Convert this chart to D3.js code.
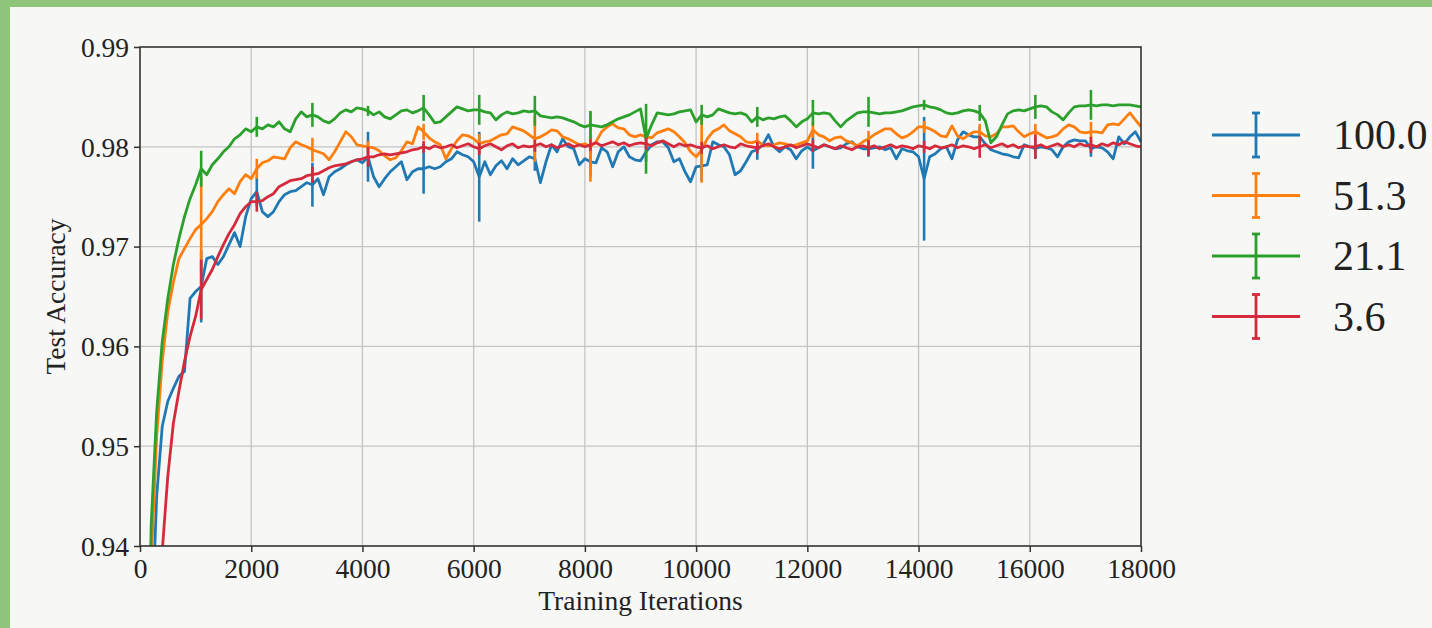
<!DOCTYPE html>
<html>
<head>
<meta charset="utf-8">
<script src="https://cdn.jsdelivr.net/npm/d3@7"></script>
<style>
	html, body { margin: 0; padding: 0; background: #f7f7f5; }
	#chart1 { width: 1432px; height: 628px; }
	text { font-family: "Liberation Serif", "DejaVu Serif", serif; fill: #222; }
</style>
</head>
<body>
<div id="chart1"></div>
<script>
// iterations are sampled every 100 steps, error bars every 1000 steps (offset 100)
var iterations = d3.range(100, 18001, 100);
var errIterations = d3.range(1100, 17101, 1000);

var seriesNames = ["100.0", "51.3", "21.1", "3.6"];
var seriesColors = ["#2179b4", "#ff7f0e", "#2ca02c", "#d42a3c"];

var xTicks = [0, 2000, 4000, 6000, 8000, 10000, 12000, 14000, 16000, 18000];
var yTicks = [0.94, 0.95, 0.96, 0.97, 0.98, 0.99];

var acc100 = [
	0.905, 0.930, 0.945, 0.952, 0.9545, 0.9558, 0.9570, 0.9575, 0.9648, 0.9655,
	0.9660, 0.9688, 0.9690, 0.9682, 0.9690, 0.9702, 0.9714, 0.9700, 0.9730, 0.9748,
	0.9755, 0.9735, 0.9730, 0.9735, 0.9745, 0.9752, 0.9755, 0.9756, 0.9760, 0.9764,
	0.9762, 0.9768, 0.9752, 0.9770, 0.9775, 0.9778, 0.9782, 0.9785, 0.9787, 0.9784,
	0.9790, 0.9770, 0.9760, 0.9768, 0.9775, 0.9780, 0.9785, 0.9767, 0.9775, 0.9778,
	0.9778, 0.9780, 0.9778, 0.9780, 0.9785, 0.9788, 0.9795, 0.9792, 0.9790, 0.9785,
	0.9770, 0.9785, 0.9772, 0.9781, 0.9786, 0.9778, 0.9788, 0.9782, 0.9786, 0.9790,
	0.9788, 0.9764, 0.9785, 0.9802, 0.9795, 0.9808, 0.9800, 0.9798, 0.9782, 0.9788,
	0.9785, 0.9784, 0.9799, 0.9795, 0.9780, 0.9795, 0.9800, 0.9790, 0.9787, 0.9786,
	0.9795, 0.9802, 0.9805, 0.9805, 0.9799, 0.9785, 0.9788, 0.9775, 0.9765, 0.9780,
	0.9781, 0.9782, 0.9805, 0.9802, 0.9800, 0.9792, 0.9772, 0.9776, 0.9785, 0.9795,
	0.9797, 0.9802, 0.9812, 0.9800, 0.9795, 0.9800, 0.9797, 0.9788, 0.9796, 0.9800,
	0.9796, 0.9799, 0.9802, 0.9800, 0.9798, 0.9799, 0.9803, 0.9805, 0.9800, 0.9798,
	0.9798, 0.9799, 0.9800, 0.9797, 0.9799, 0.9788, 0.9798, 0.9796, 0.9795, 0.9790,
	0.9768, 0.9790, 0.9793, 0.9798, 0.9800, 0.9788, 0.9807, 0.9815, 0.9812, 0.9810,
	0.9810, 0.9803, 0.9797, 0.9795, 0.9793, 0.9792, 0.9790, 0.9789, 0.9802, 0.9800,
	0.9798, 0.9800, 0.9799, 0.9797, 0.9790, 0.9800, 0.9805, 0.9807, 0.9806, 0.9806,
	0.9798, 0.9800, 0.9799, 0.9795, 0.9788, 0.9810, 0.9803, 0.9810, 0.9815, 0.9805
];

var acc51 = [
	0.900, 0.938, 0.951, 0.9585, 0.9635, 0.9664, 0.9688, 0.9698, 0.9708, 0.9717,
	0.9722, 0.9728, 0.9735, 0.9745, 0.9752, 0.9758, 0.9753, 0.9765, 0.9772, 0.9768,
	0.9778, 0.9784, 0.9786, 0.9790, 0.9789, 0.9788, 0.9799, 0.9805, 0.9802, 0.9800,
	0.9797, 0.9795, 0.9793, 0.9787, 0.9795, 0.9805, 0.9815, 0.9810, 0.9802, 0.9801,
	0.9800, 0.9799, 0.9796, 0.9791, 0.9787, 0.9789, 0.9796, 0.9805, 0.9803, 0.9820,
	0.9815, 0.9809, 0.9805, 0.9802, 0.9788, 0.9798, 0.9806, 0.9812, 0.9811, 0.9808,
	0.9803, 0.9805, 0.9806, 0.9809, 0.9812, 0.9813, 0.9820, 0.9818, 0.9816, 0.9812,
	0.9808, 0.9810, 0.9813, 0.9817, 0.9816, 0.9810, 0.9808, 0.9805, 0.9802, 0.9803,
	0.9800, 0.9805, 0.9815, 0.9820, 0.9823, 0.9819, 0.9818, 0.9812, 0.9810, 0.9812,
	0.9810, 0.9809, 0.9814, 0.9816, 0.9818, 0.9815, 0.9810, 0.9804, 0.9795, 0.9790,
	0.9797, 0.9808, 0.9815, 0.9818, 0.9822, 0.9816, 0.9813, 0.9810, 0.9805, 0.9804,
	0.9806, 0.9802, 0.9801, 0.9802, 0.9804, 0.9803, 0.9801, 0.9802, 0.9804, 0.9806,
	0.9817, 0.9812, 0.9810, 0.9806, 0.9809, 0.9810, 0.9806, 0.9804, 0.9801, 0.9805,
	0.9808, 0.9812, 0.9815, 0.9818, 0.9818, 0.9813, 0.9809, 0.9811, 0.9815, 0.9820,
	0.9820, 0.9818, 0.9815, 0.9811, 0.9810, 0.9821, 0.9811, 0.9808, 0.9812, 0.9815,
	0.9815, 0.9811, 0.9810, 0.9813, 0.9820, 0.9820, 0.9821, 0.9815, 0.9810, 0.9813,
	0.9815, 0.9812, 0.9809, 0.9810, 0.9812, 0.9818, 0.9822, 0.9820, 0.9815, 0.9814,
	0.9815, 0.9815, 0.9814, 0.9822, 0.9823, 0.9822, 0.9828, 0.9834, 0.9827, 0.9820
];

var acc21 = [
	0.905, 0.942, 0.9535, 0.9605, 0.9648, 0.9682, 0.9708, 0.9730, 0.9748, 0.9762,
	0.9778, 0.9772, 0.9782, 0.9788, 0.9795, 0.9800, 0.9808, 0.9812, 0.9818, 0.9815,
	0.9820, 0.9818, 0.9822, 0.9820, 0.9825, 0.9818, 0.9815, 0.9828, 0.9835, 0.9830,
	0.9832, 0.9830, 0.9826, 0.9824, 0.9828, 0.9834, 0.9837, 0.9835, 0.9839, 0.9838,
	0.9836, 0.9832, 0.9835, 0.9830, 0.9828, 0.9832, 0.9836, 0.9837, 0.9834, 0.9836,
	0.9839, 0.9832, 0.9824, 0.9825, 0.9830, 0.9835, 0.9840, 0.9838, 0.9836, 0.9837,
	0.9837, 0.9835, 0.9834, 0.9827, 0.9832, 0.9835, 0.9833, 0.9834, 0.9836, 0.9835,
	0.9836, 0.9831, 0.9830, 0.9829, 0.9830, 0.9829, 0.9827, 0.9825, 0.9822, 0.9820,
	0.9822, 0.9821, 0.9820, 0.9822, 0.9825, 0.9828, 0.9830, 0.9832, 0.9835, 0.9838,
	0.9808, 0.9822, 0.9834, 0.9833, 0.9832, 0.9833, 0.9835, 0.9836, 0.9837, 0.9825,
	0.9832, 0.9830, 0.9832, 0.9838, 0.9836, 0.9834, 0.9833, 0.9834, 0.9832, 0.9825,
	0.9830, 0.9827, 0.9829, 0.9828, 0.9830, 0.9831, 0.9826, 0.9820, 0.9825, 0.9828,
	0.9834, 0.9833, 0.9834, 0.9833, 0.9826, 0.9820, 0.9826, 0.9830, 0.9834, 0.9835,
	0.9835, 0.9834, 0.9833, 0.9834, 0.9834, 0.9835, 0.9836, 0.9838, 0.9840, 0.9841,
	0.9842, 0.9840, 0.9839, 0.9837, 0.9834, 0.9833, 0.9834, 0.9836, 0.9837, 0.9836,
	0.9834, 0.9826, 0.9804, 0.9810, 0.9822, 0.9833, 0.9836, 0.9837, 0.9836, 0.9838,
	0.9840, 0.9841, 0.9840, 0.9835, 0.9832, 0.9827, 0.9834, 0.9840, 0.9841, 0.9841,
	0.9842, 0.9841, 0.9842, 0.9842, 0.9841, 0.9842, 0.9842, 0.9842, 0.9841, 0.9840
];

var acc3 = [
	0.880, 0.910, 0.930, 0.9395, 0.9470, 0.9523, 0.9555, 0.9585, 0.9610, 0.9630,
	0.9657, 0.9667, 0.9677, 0.9690, 0.9702, 0.9713, 0.9722, 0.9733, 0.9740, 0.9745,
	0.9745, 0.9746, 0.9750, 0.9753, 0.9760, 0.9763, 0.9766, 0.9767, 0.9768, 0.9771,
	0.9772, 0.9773, 0.9776, 0.9779, 0.9781, 0.9782, 0.9783, 0.9785, 0.9787, 0.9788,
	0.9790, 0.9790, 0.9792, 0.9793, 0.9792, 0.9793, 0.9794, 0.9795, 0.9797, 0.9798,
	0.9800, 0.9798, 0.9801, 0.9799, 0.9800, 0.9802, 0.9799, 0.9801, 0.9803, 0.9800,
	0.9798, 0.9801, 0.9803, 0.9800, 0.9797, 0.9801, 0.9803, 0.9799, 0.9801, 0.9800,
	0.9801, 0.9803, 0.9800, 0.9802, 0.9799, 0.9801, 0.9803, 0.9800, 0.9802, 0.9800,
	0.9802, 0.9804, 0.9801, 0.9803, 0.9805, 0.9802, 0.9804, 0.9801, 0.9803, 0.9804,
	0.9803, 0.9801, 0.9804, 0.9806, 0.9803, 0.9800, 0.9803, 0.9801, 0.9802, 0.9800,
	0.9799, 0.9801, 0.9798, 0.9800, 0.9802, 0.9800, 0.9799, 0.9803, 0.9801, 0.9800,
	0.9799, 0.9801, 0.9803, 0.9800, 0.9798, 0.9800, 0.9802, 0.9799, 0.9801, 0.9803,
	0.9801, 0.9799, 0.9802, 0.9800, 0.9798, 0.9801, 0.9799, 0.9797, 0.9800, 0.9801,
	0.9799, 0.9801, 0.9798, 0.9800, 0.9802, 0.9799, 0.9801, 0.9800, 0.9798, 0.9801,
	0.9800, 0.9798, 0.9801, 0.9799, 0.9800, 0.9802, 0.9799, 0.9801, 0.9800, 0.9798,
	0.9800, 0.9802, 0.9799, 0.9801, 0.9803, 0.9800, 0.9802, 0.9799, 0.9801, 0.9800,
	0.9800, 0.9802, 0.9799, 0.9801, 0.9803, 0.9800, 0.9802, 0.9800, 0.9803, 0.9801,
	0.9802, 0.9800, 0.9803, 0.9801, 0.9804, 0.9802, 0.9805, 0.9803, 0.9801, 0.9800
];

// half-length of the error bars at 1100, 2100, ... 17100
var err100 = [0.0036, 0.0015, 0.0022, 0.0025, 0.0025, 0.0045, 0.0012, 0.0015, 0.0010, 0.0015, 0.0010, 0.0018, 0.0008, 0.0062, 0.0010, 0.0010, 0.0008];
var err51 = [0.0048, 0.0010, 0.0012, 0.0006, 0.0008, 0.0010, 0.0023, 0.0035, 0.0008, 0.0033, 0.0008, 0.0008, 0.0008, 0.0006, 0.0008, 0.0008, 0.0010];
var err21 = [0.0018, 0.0010, 0.0012, 0.0005, 0.0013, 0.0015, 0.0015, 0.0014, 0.0035, 0.0010, 0.0010, 0.0013, 0.0015, 0.0005, 0.0008, 0.0012, 0.0015];
var err3 = [0.0030, 0.0010, 0.0008, 0.0010, 0.0006, 0.0006, 0.0006, 0.0006, 0.0006, 0.0006, 0.0006, 0.0006, 0.0008, 0.0006, 0.0011, 0.0012, 0.0008];

(function() {
	var width = 1432,
		height = 628;

	var margin = {left: 140, top: 47, right: 291, bottom: 82};
	var plotW = width - margin.left - margin.right,
		plotH = height - margin.top - margin.bottom;

	var svg = d3.select("#chart1")
		.append("svg")
		.attr("width", width)
		.attr("height", height);

	// green frame from the screenshot
	svg.append("rect").attr("x", 0).attr("y", 0).attr("width", width).attr("height", 7).attr("fill", "#8fc47b");
	svg.append("rect").attr("x", 0).attr("y", 0).attr("width", 10).attr("height", height).attr("fill", "#8fc47b");

	var g = svg.append("g")
		.attr("transform", "translate(" + margin.left + "," + margin.top + ")");

	var x = d3.scaleLinear().domain([0, 18000]).range([0, plotW]);
	var y = d3.scaleLinear().domain([0.94, 0.99]).range([plotH, 0]);

	// grid
	g.append("g").selectAll("line")
		.data(xTicks.slice(1, -1))
		.enter().append("line")
		.attr("x1", function(d) { return x(d); })
		.attr("x2", function(d) { return x(d); })
		.attr("y1", 0).attr("y2", plotH)
		.attr("stroke", "#c4c4c4").attr("stroke-width", 1.3);

	g.append("g").selectAll("line")
		.data(yTicks.slice(1, -1))
		.enter().append("line")
		.attr("y1", function(d) { return y(d); })
		.attr("y2", function(d) { return y(d); })
		.attr("x1", 0).attr("x2", plotW)
		.attr("stroke", "#c4c4c4").attr("stroke-width", 1.3);

	var series = [
		{name: seriesNames[0], color: seriesColors[0], values: acc100, err: err100},
		{name: seriesNames[1], color: seriesColors[1], values: acc51, err: err51},
		{name: seriesNames[2], color: seriesColors[2], values: acc21, err: err21},
		{name: seriesNames[3], color: seriesColors[3], values: acc3, err: err3}
	];

	g.append("clipPath").attr("id", "plotclip")
		.append("rect").attr("width", plotW).attr("height", plotH);

	var line = d3.line()
		.x(function(d, i) { return x(iterations[i]); })
		.y(function(d) { return y(d); });

	var plot = g.append("g").attr("clip-path", "url(#plotclip)");

	series.forEach(function(s) {
		var sg = plot.append("g");
		sg.append("path")
			.datum(s.values)
			.attr("d", line)
			.attr("fill", "none")
			.attr("stroke", s.color)
			.attr("stroke-width", 2.8)
			.attr("stroke-linejoin", "round");

		// error bars (no caps inside the plot)
		var bars = errIterations.map(function(it, k) {
			var idx = iterations.indexOf(it);
			return {it: it, v: s.values[idx], e: s.err[k]};
		});
		sg.selectAll(".eb").data(bars).enter().append("line")
			.attr("x1", function(d) { return x(d.it); })
			.attr("x2", function(d) { return x(d.it); })
			.attr("y1", function(d) { return y(d.v - d.e); })
			.attr("y2", function(d) { return y(d.v + d.e); })
			.attr("stroke", s.color).attr("stroke-width", 2.6);
	});

	// axes
	var xAxis = d3.axisBottom(x).tickValues(xTicks).tickSize(6).tickPadding(5).tickFormat(d3.format("d"));
	var yAxis = d3.axisLeft(y).tickValues(yTicks).tickSize(6).tickPadding(5).tickFormat(d3.format(".2f"));

	var gx = g.append("g").attr("transform", "translate(0," + plotH + ")").call(xAxis);
	var gy = g.append("g").call(yAxis);

	[gx, gy].forEach(function(a) {
		a.select(".domain").remove();
		a.selectAll(".tick line").attr("stroke", "#333").attr("stroke-width", 1.5);
		a.selectAll(".tick text")
			.attr("fill", "#222")
			.style("font-family", "'Liberation Serif', serif")
			.style("font-size", "27.5px");
	});
	gx.selectAll(".tick text").attr("dy", "0.75em");
	gy.selectAll(".tick text").attr("dy", "0.34em");

	// frame of the axes
	g.append("rect")
		.attr("width", plotW).attr("height", plotH)
		.attr("fill", "none")
		.attr("stroke", "#333").attr("stroke-width", 1.6);

	// axis titles
	svg.append("text")
		.attr("x", margin.left + plotW / 2)
		.attr("y", 610)
		.attr("text-anchor", "middle")
		.style("font-size", "27.5px")
		.text("Training Iterations");

	svg.append("text")
		.attr("transform", "translate(65," + (margin.top + plotH / 2) + ") rotate(-90)")
		.attr("text-anchor", "middle")
		.style("font-size", "27.5px")
		.text("Test Accuracy");

	// legend
	var legend = svg.append("g").attr("transform", "translate(1212,135)");
	var rows = legend.selectAll(".row")
		.data(series)
		.enter().append("g")
		.attr("transform", function(d, i) { return "translate(0," + (i * 60.5) + ")"; });

	rows.append("line")
		.attr("x1", 0).attr("x2", 88).attr("y1", 0).attr("y2", 0)
		.attr("stroke", function(d) { return d.color; }).attr("stroke-width", 2.8);
	rows.append("line")
		.attr("x1", 44).attr("x2", 44).attr("y1", -22).attr("y2", 22)
		.attr("stroke", function(d) { return d.color; }).attr("stroke-width", 2.8);
	[-22, 22].forEach(function(cy) {
		rows.append("line")
			.attr("x1", 40).attr("x2", 48).attr("y1", cy).attr("y2", cy)
			.attr("stroke", function(d) { return d.color; }).attr("stroke-width", 2.8);
	});
	rows.append("text")
		.attr("x", 121)
		.attr("y", 0)
		.attr("dy", "0.34em")
		.style("font-size", "42px")
		.text(function(d) { return d.name; });
})();
</script>
</body>
</html>
